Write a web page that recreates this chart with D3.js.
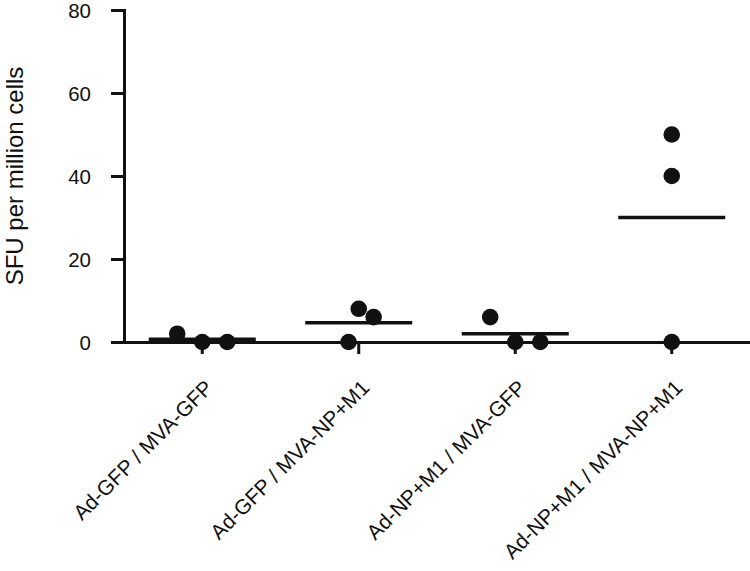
<!DOCTYPE html>
<html>
<head>
<meta charset="utf-8">
<script src="https://cdn.jsdelivr.net/npm/d3@7"></script>
<style>
  html, body { margin: 0; padding: 0; background: #fff; }
  svg { display: block; font-family: "Liberation Sans", Arial, Helvetica, sans-serif; }
</style>
</head>
<body>
<svg id="chart" width="750" height="571"></svg>
<script>
// ---- data ----
const categories = [
  "Ad-GFP / MVA-GFP",
  "Ad-GFP / MVA-NP+M1",
  "Ad-NP+M1 / MVA-GFP",
  "Ad-NP+M1 / MVA-NP+M1"
];
// individual animal values (SFU per million cells)
const group1Values = [2, 0, 0];
const group2Values = [8, 6, 0];
const group3Values = [6, 0, 0];
const group4Values = [50, 40, 0];
// horizontal scatter of each point, as a fraction of the category band
const group1Jitter = [-0.16, 0, 0.16];
const group2Jitter = [0, 0.095, -0.065];
const group3Jitter = [-0.16, 0, 0.16];
const group4Jitter = [0, 0, 0];
const yTicks = [0, 20, 40, 60, 80];
const yLabel = "SFU per million cells";

const groupValues = [group1Values, group2Values, group3Values, group4Values];
const groupJitter = [group1Jitter, group2Jitter, group3Jitter, group4Jitter];

// ---- layout ----
const svg = d3.select("#chart");
const mLeft = 124, mRight = 750, mTop = 10, mBottom = 342;

const x = d3.scaleBand().domain(categories).range([mLeft, mRight]).padding(0);
const y = d3.scaleLinear().domain([0, 80]).range([mBottom, mTop]);
const step = x.bandwidth();
const cx = c => x(c) + step / 2;

// Y axis
const yAxis = svg.append("g")
  .attr("transform", `translate(${mLeft},0)`)
  .call(d3.axisLeft(y).tickValues(yTicks).tickSize(13).tickSizeOuter(0).tickPadding(20));
yAxis.select(".domain").attr("stroke", "#111").attr("stroke-width", 3).attr("stroke-linecap", "square");
yAxis.selectAll(".tick line").attr("stroke", "#111").attr("stroke-width", 3);
yAxis.selectAll(".tick text").attr("fill", "#111").style("font-size", "20.5px").attr("dy", "0.36em");

// X axis
const xAxis = svg.append("g")
  .attr("transform", `translate(0,${y(0)})`)
  .call(d3.axisBottom(x).tickSize(12).tickSizeOuter(0));
xAxis.select(".domain").attr("stroke", "#111").attr("stroke-width", 3);
xAxis.selectAll(".tick line").attr("stroke", "#111").attr("stroke-width", 3);
xAxis.selectAll(".tick text")
  .attr("fill", "#111")
  .style("font-size", "21px")
  .attr("text-anchor", "end")
  .attr("x", 0).attr("y", 0).attr("dy", 0)
  .attr("transform", "translate(12,47) rotate(-45)");

// Y label
svg.append("text")
  .attr("transform", `translate(23,${(mTop + mBottom) / 2}) rotate(-90)`)
  .attr("text-anchor", "middle")
  .attr("fill", "#111")
  .style("font-size", "24px")
  .text(yLabel);

// mean lines
const means = groupValues.map(v => d3.mean(v));
svg.append("g").selectAll("line")
  .data(categories)
  .join("line")
  .attr("x1", c => cx(c) - step * 0.342)
  .attr("x2", c => cx(c) + step * 0.342)
  .attr("y1", (c, i) => y(means[i]))
  .attr("y2", (c, i) => y(means[i]))
  .attr("stroke", "#111")
  .attr("stroke-width", 3.5);

// points
const points = [];
categories.forEach((c, i) => {
  groupValues[i].forEach((v, j) => points.push({ c, v, j: groupJitter[i][j] }));
});
svg.append("g").selectAll("circle")
  .data(points)
  .join("circle")
  .attr("cx", d => cx(d.c) + d.j * step)
  .attr("cy", d => y(d.v))
  .attr("r", 8.3)
  .attr("fill", "#111");
</script>
</body>
</html>
